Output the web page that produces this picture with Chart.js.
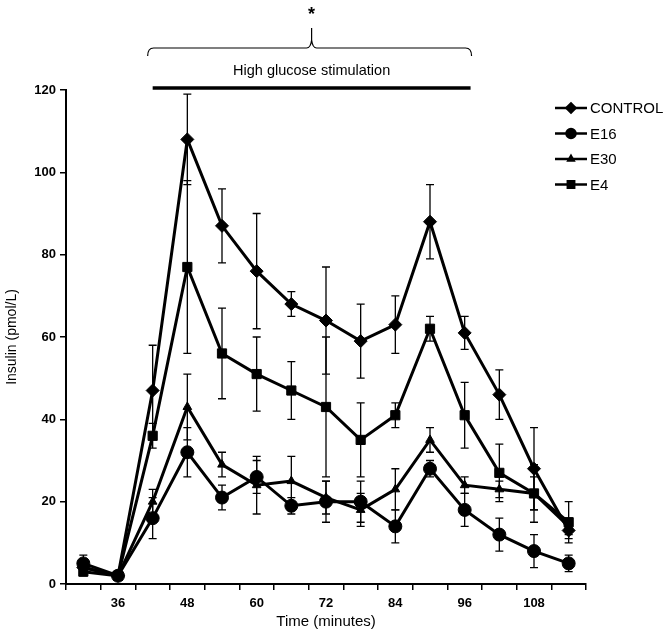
<!DOCTYPE html>
<html lang="en">
<head>
  <meta charset="UTF-8">
  <title>Insulin secretion</title>
  <script src="https://cdn.jsdelivr.net/npm/chart.js"></script>
  <style>
    body { margin: 0; background: #fff; }
    canvas { display: block; }
  </style>
</head>
<body>
  <canvas id="grafico" width="668" height="638"></canvas>

  <script>
    // time points (minutes)
    const times = ['30', '36', '42', '48', '54', '60', '66', '72', '78', '84', '90', '96', '102', '108', '114'];
    const shownTicks = ['36', '48', '60', '72', '84', '96', '108'];

    const control    = [4, 2, 47, 108, 87, 76, 68, 64, 59, 63, 88, 61, 46, 28, 13];
    const controlErr = [1, 0, 11, 11, 9, 14, 3, 13, 9, 7, 9, 4, 6, 10, 2];
    const e16        = [5, 2, 16, 32, 21, 26, 19, 20, 20, 14, 28, 18, 12, 8, 5];
    const e16Err     = [2, 0, 5, 6, 3, 4, 2, 5, 5, 4, 2, 4, 4, 4, 2];
    const e30        = [4, 2, 20, 43, 29, 24, 25, 21, 18, 23, 35, 24, 23, 22, 14];
    const e30Err     = [1, 0, 3, 8, 3, 7, 6, 4, 4, 5, 3, 2, 2, 7, 2];
    const e4         = [3, 2, 36, 77, 56, 51, 47, 43, 35, 41, 62, 41, 27, 22, 15];
    const e4Err      = [1, 0, 3, 21, 11, 9, 7, 17, 9, 3, 3, 8, 7, 4, 5];

    const fam = '"Liberation Sans", Arial, sans-serif';

    // error bars drawn with the y scale
    const errorBars = {
      id: 'errorBars',
      beforeDatasetsDraw(chart) {
        const ctx = chart.ctx;
        const y = chart.scales.y;
        ctx.save();
        ctx.strokeStyle = '#000';
        ctx.lineWidth = 1.3;
        chart.data.datasets.forEach((ds, i) => {
          const meta = chart.getDatasetMeta(i);
          meta.data.forEach((pt, j) => {
            const e = ds.errors[j];
            if (!e) return;
            const top = y.getPixelForValue(ds.data[j] + e);
            const bot = y.getPixelForValue(ds.data[j] - e);
            ctx.beginPath();
            ctx.moveTo(pt.x, top); ctx.lineTo(pt.x, bot);
            ctx.moveTo(pt.x - 4, top); ctx.lineTo(pt.x + 4, top);
            ctx.moveTo(pt.x - 4, bot); ctx.lineTo(pt.x + 4, bot);
            ctx.stroke();
          });
        });
        ctx.restore();
      }
    };

    // stimulation bar, brace, asterisk and the legend
    const extras = {
      id: 'extras',
      afterDraw(chart) {
        const ctx = chart.ctx;
        const x = chart.scales.x;
        const area = chart.chartArea;
        const cw = x.getPixelForValue(1) - x.getPixelForValue(0);
        const x1 = x.getPixelForValue(2);
        const x2 = x.getPixelForValue(11) + cw * 0.17;
        const mid = (x1 + x2) / 2;
        ctx.save();
        ctx.strokeStyle = '#000';
        ctx.fillStyle = '#000';

        ctx.lineWidth = 3.5;
        ctx.beginPath();
        ctx.moveTo(x1, area.top - 2); ctx.lineTo(x2, area.top - 2);
        ctx.stroke();

        ctx.font = '14.5px ' + fam;
        ctx.textAlign = 'center';
        ctx.textBaseline = 'middle';
        ctx.fillText('High glucose stimulation', mid, area.top - 19);

        // brace
        const bl = x1 - 5, br = x2 + 1, by = area.top - 42;
        ctx.lineWidth = 1.2;
        ctx.beginPath();
        ctx.moveTo(bl, by + 8);
        ctx.quadraticCurveTo(bl, by, bl + 6, by);
        ctx.lineTo(mid - 5, by);
        ctx.quadraticCurveTo(mid - 1, by, mid, by - 8);
        ctx.lineTo(mid, by - 20);
        ctx.moveTo(mid, by - 8);
        ctx.quadraticCurveTo(mid + 1, by, mid + 5, by);
        ctx.lineTo(br - 6, by);
        ctx.quadraticCurveTo(br, by, br, by + 8);
        ctx.stroke();

        ctx.font = 'bold 18px ' + fam;
        ctx.fillText('*', mid, by - 33);

        // legend
        ctx.textAlign = 'left';
        ctx.font = '15px ' + fam;
        chart.data.datasets.forEach((ds, i) => {
          const ly = 108 + i * 25.5;
          ctx.lineWidth = 2.5;
          ctx.beginPath();
          ctx.moveTo(555, ly); ctx.lineTo(587, ly);
          ctx.stroke();
          Chart.helpers.drawPoint(ctx, { pointStyle: ds.pointStyle, radius: ds.pointRadius - 2, rotation: 0, borderWidth: 1 }, 571, ly);
          ctx.fillText(ds.label, 590, ly + 1);
        });
        ctx.restore();
      }
    };

    function serie(label, data, errors, style, radius) {
      return {
        label, data, errors,
        borderColor: '#000', backgroundColor: '#000', borderWidth: 3,
        pointStyle: style, pointRadius: radius, pointBorderWidth: 1,
        pointBorderColor: '#000', pointBackgroundColor: '#000',
        tension: 0, clip: false
      };
    }

    const chart = new Chart(document.getElementById('grafico'), {
      type: 'line',
      data: {
        labels: times,
        datasets: [
          serie('CONTROL', control, controlErr, 'rectRot', 6.5),
          serie('E16', e16, e16Err, 'circle', 6.5),
          serie('E30', e30, e30Err, 'triangle', 5),
          serie('E4', e4, e4Err, 'rect', 6.5)
        ]
      },
      options: {
        responsive: false,
        animation: false,
        layout: { padding: { top: 90, right: 82, left: 0, bottom: 0 } },
        plugins: { legend: { display: false }, tooltip: { enabled: false } },
        scales: {
          x: {
            type: 'category',
            offset: true,
            afterFit(s) { s.height = 54; },
            grid: { offset: true, drawOnChartArea: false, drawTicks: true, tickLength: 6, color: '#000', lineWidth: 1.5 },
            border: { color: '#000', width: 2 },
            ticks: {
              autoSkip: false, maxRotation: 0, color: '#000', padding: 6,
              font: { family: fam, size: 13, weight: 'bold' },
              callback(v, i) { return shownTicks.includes(times[i]) ? times[i] : ''; }
            },
            title: { display: true, text: 'Time (minutes)', color: '#000', font: { family: fam, size: 15 }, padding: { top: 0, bottom: 7 } }
          },
          y: {
            min: 0, max: 120,
            afterFit(s) { s.width = 66; },
            grid: { drawOnChartArea: false, drawTicks: true, tickLength: 6, color: '#000', lineWidth: 1.5 },
            border: { color: '#000', width: 2 },
            ticks: { stepSize: 20, color: '#000', padding: 4, font: { family: fam, size: 13, weight: 'bold' } },
            title: { display: true, text: 'Insulin (pmol/L)', color: '#000', font: { family: fam, size: 14 }, padding: { top: 4, bottom: 0 } }
          }
        }
      },
      plugins: [errorBars, extras]
    });
  </script>
</body>
</html>
